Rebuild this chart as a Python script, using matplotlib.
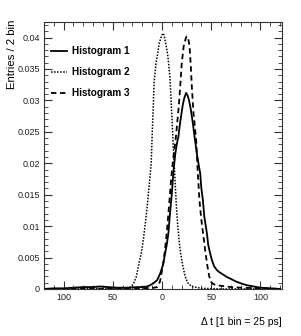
import numpy as np
import matplotlib
matplotlib.use("Agg")
import matplotlib.pyplot as plt
from matplotlib.ticker import FixedLocator, FixedFormatter, MultipleLocator

plt.rcParams['font.family'] = ['Liberation Sans', 'DejaVu Sans']

# Histogram 1 (solid)
h1_x = [-120, -110, -100, -90, -80, -70, -63, -55, -45, -35, -25, -20, -15, -12, -8, -5,
        -2, 1, 3, 5, 6.5, 8, 10, 11.5, 13.5, 15, 16.7, 18, 19.4, 21, 22.5, 24.5, 26,
        27.5, 29, 30.3, 31.5, 32.6, 34, 35.4, 37, 38.8, 40, 41.5, 43, 45.6, 47, 49,
        50.7, 53, 55.8, 58, 62, 66, 70, 75, 80, 86, 93, 100, 110, 120]
h1_y = [0.0000, 0.0001, 0.0001, 0.0002, 0.0003, 0.0003, 0.0004, 0.0003, 0.0002, 0.0002,
        0.0003, 0.0003, 0.0004, 0.0006, 0.0010, 0.0014, 0.0024, 0.0038, 0.0055, 0.0072,
        0.0089, 0.0118, 0.0152, 0.0185, 0.0215, 0.0230, 0.0243, 0.0260, 0.0275, 0.0292,
        0.0303, 0.0312, 0.0308, 0.0300, 0.0288, 0.0275, 0.0262, 0.0248, 0.0232, 0.0216,
        0.0200, 0.0184, 0.0160, 0.0142, 0.0115, 0.0089, 0.0070, 0.0056, 0.0046, 0.0036,
        0.0030, 0.0027, 0.0023, 0.0019, 0.0016, 0.0012, 0.0009, 0.0006, 0.0004, 0.0002,
        0.0001, 0.0000]

# Histogram 2 (dotted)
h2_x = [-120, -90, -60, -40, -32, -29, -26, -24, -21, -19, -17, -15, -13, -11, -10, -9,
        -8, -6, -4, -3, -1, 1, 2, 3, 5, 6, 8, 9, 10, 11.5, 13, 14.5, 16, 17.5, 19, 21,
        23.5, 26, 30, 40, 60, 120]
h2_y = [0.0000, 0.0000, 0.0001, 0.0001, 0.0003, 0.0008, 0.0020, 0.0036, 0.0058, 0.0078,
        0.0104, 0.0132, 0.0165, 0.0200, 0.0245, 0.0285, 0.0330, 0.0360, 0.0378, 0.0390,
        0.0400, 0.0407, 0.0404, 0.0397, 0.0380, 0.0370, 0.0338, 0.0307, 0.0275, 0.0225,
        0.0180, 0.0135, 0.0100, 0.0075, 0.0056, 0.0038, 0.0020, 0.0010, 0.0004, 0.0001,
        0.0000, 0.0000]

# Histogram 3 (dashed)
h3_x = [-120, -60, -20, -8, -5, -2, 1.3, 3, 4.8, 6.5, 8.2, 10, 12, 14, 15.5, 17, 18.5,
        20, 22, 24, 25, 26.5, 28, 29.3, 30.3, 32, 34.7, 36, 38, 40, 42, 44, 46, 48, 50,
        52, 55, 60, 65, 70, 80, 100, 120]
h3_y = [0.0000, 0.0000, 0.0001, 0.0002, 0.0003, 0.0012, 0.0041, 0.0062, 0.0089, 0.0120,
        0.0153, 0.0188, 0.0215, 0.0240, 0.0265, 0.0290, 0.0322, 0.0358, 0.0386, 0.0398,
        0.0402, 0.0400, 0.0386, 0.0354, 0.0322, 0.0280, 0.0237, 0.0195, 0.0142, 0.0110,
        0.0085, 0.0060, 0.0038, 0.0020, 0.0011, 0.0008, 0.0006, 0.0005, 0.0004, 0.0003,
        0.0002, 0.0001, 0.0000]

x_ticks = [-100, -50, 0, 50, 100]
x_tick_labels = ["100", "50", "0", "50", "100"]
y_ticks = [0, 0.005, 0.01, 0.015, 0.02, 0.025, 0.03, 0.035, 0.04]
y_tick_labels = ["0", "0.005", "0.01", "0.015", "0.02", "0.025", "0.03", "0.035", "0.04"]

fig = plt.figure(figsize=(3.01, 3.36), dpi=100)
ax = fig.add_axes([0.146, 0.140, 0.791, 0.795])

ax.plot(h1_x, h1_y, color='k', lw=1.3, ls='-', label='Histogram 1')
ax.plot(h2_x, h2_y, color='k', lw=1.1, ls=(0, (1, 1)), label='Histogram 2')
ax.plot(h3_x, h3_y, color='k', lw=1.3, ls=(0, (3, 2)), label='Histogram 3')

ax.set_xlim(-120, 122)
ax.set_ylim(0, 0.0425)

ax.xaxis.set_major_locator(FixedLocator(x_ticks))
ax.xaxis.set_major_formatter(FixedFormatter(x_tick_labels))
ax.xaxis.set_minor_locator(MultipleLocator(10))
ax.yaxis.set_major_locator(FixedLocator(y_ticks))
ax.yaxis.set_major_formatter(FixedFormatter(y_tick_labels))
ax.yaxis.set_minor_locator(MultipleLocator(0.001))

ax.tick_params(which='both', direction='in', top=True, right=True,
               color='#333333', labelsize=6.5, labelcolor='#222222')
ax.tick_params(which='major', length=6, width=0.8, pad=3)
ax.tick_params(which='minor', length=3, width=0.6)
for s in ax.spines.values():
    s.set_color('#333333')
    s.set_linewidth(0.8)

ax.set_ylabel('Entries / 2 bin', fontsize=8.2, ha='right', va='center')
ax.yaxis.set_label_coords(-0.135, 1.008)
ax.set_xlabel('\u0394 t [1 bin = 25 ps]', loc='right', fontsize=7.5, labelpad=11)

ax.legend(loc='upper left', bbox_to_anchor=(0.0, 0.935), frameon=False,
          prop={'weight': 'bold', 'size': 7.2}, handlelength=1.6,
          handletextpad=0.5, labelspacing=1.1, borderaxespad=0.3)

fig.savefig('out.png', dpi=100)
